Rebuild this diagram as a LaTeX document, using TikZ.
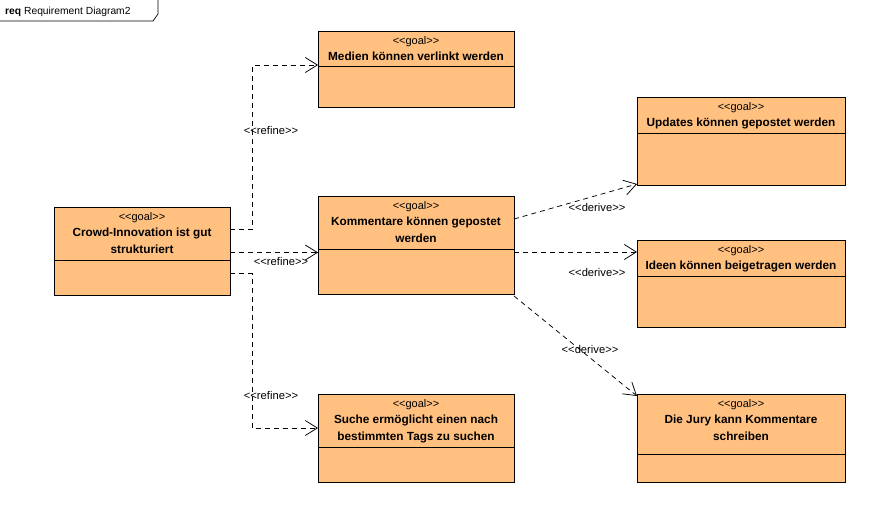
\documentclass[tikz,border=0pt]{standalone}
\usepackage{fontspec}
\setmainfont{Liberation Sans}
\usetikzlibrary{arrows.meta}
\definecolor{goalfill}{HTML}{FFC080}
\tikzset{
  goalbox/.style={draw=black, fill=goalfill, line width=0.9pt},
  divline/.style={draw=black, line width=0.9pt},
  stereo/.style={font=\fontsize{11}{12}\selectfont, inner sep=0pt},
  gtitle/.style={font=\bfseries\fontsize{11.8}{17}\selectfont, align=center, inner sep=0pt},
  rel/.style={draw=black, line width=0.75pt, dash pattern=on 5pt off 4pt, -{Straight Barb[length=12pt,width=15pt,line width=0.75pt]}},
  lbl/.style={font=\fontsize{11.2}{12}\selectfont, inner sep=0pt},
}
\begin{document}
\begin{tikzpicture}[x=1pt,y=-1pt]
\useasboundingbox (0,0) rectangle (888,511);
% frame tab
\draw[line width=0.7pt] (0,21) -- (153,21) -- (158,14) -- (158,0);
\node[anchor=base west, inner sep=0pt, font=\fontsize{10.3}{11}\selectfont] (hdr) at (5,14.5) {\textbf{req} Requirement Diagram2};

% boxes: name, x1,y1,x2,y2, divider, title
\newcommand{\goalnode}[7]{%
  \path[goalbox] (#2,#3) rectangle (#4,#5);
  \draw[divline] (#2,#6) -- (#4,#6);
  \coordinate (#1) at ({(#2+#4)/2},{(#3+#5)/2});
  \node[stereo] (#1-st) at ({(#2+#4)/2},{#3+10.8}) {<{}<goal>{}>};
  \node[gtitle, anchor=north] (#1-t) at ({(#2+#4)/2},{#3+20.8}) {#7};
}
\goalnode{crowd}{54}{207}{230}{295}{260.5}{Crowd-Innovation ist gut\\strukturiert}
\goalnode{medien}{318}{31}{514}{107}{66.5}{Medien können verlinkt werden}
\goalnode{komm}{318}{196}{514}{294}{249}{Kommentare können gepostet\\werden}
\goalnode{suche}{318}{394}{514}{482}{447}{Suche ermöglicht einen nach\\bestimmten Tags zu suchen}
\goalnode{upd}{637}{97}{845}{185}{133}{Updates können gepostet werden}
\goalnode{ideen}{637}{240}{845}{327}{276}{Ideen können beigetragen werden}
\goalnode{jury}{637}{394}{845}{482}{454}{Die Jury kann Kommentare\\schreiben}

% connector anchor coordinates
\coordinate (c1) at (230,229.5);
\coordinate (c2) at (230,252.5);
\coordinate (c3) at (230,273.5);
\coordinate (m1) at (318,65);
\coordinate (k1) at (318,252.5);
\coordinate (s1) at (318,428);
\coordinate (ko1) at (514,219);
\coordinate (ko2) at (514,252);
\coordinate (ko3) at (514,296);
\coordinate (u1) at (637,184);
\coordinate (i1) at (637,252);
\coordinate (j1) at (637,396);

\draw[rel] (c1) -- (252,229.5) -- (252,65) -- (m1);
\draw[rel] (c2) -- (k1);
\draw[rel] (c3) -- (252,273.5) -- (252,428) -- (s1);
\draw[rel] (ko1) -- (u1);
\draw[rel] (ko2) -- (i1);
\draw[rel] (ko3) -- (j1);

\node[lbl] (l1) at (271,130) {<{}<refine>{}>};
\node[lbl] (l2) at (281,261) {<{}<refine>{}>};
\node[lbl] (l3) at (271,395) {<{}<refine>{}>};
\node[lbl] (l4) at (597,207) {<{}<derive>{}>};
\node[lbl] (l5) at (597,272) {<{}<derive>{}>};
\node[lbl] (l6) at (590,349) {<{}<derive>{}>};
\end{tikzpicture}
\end{document}
